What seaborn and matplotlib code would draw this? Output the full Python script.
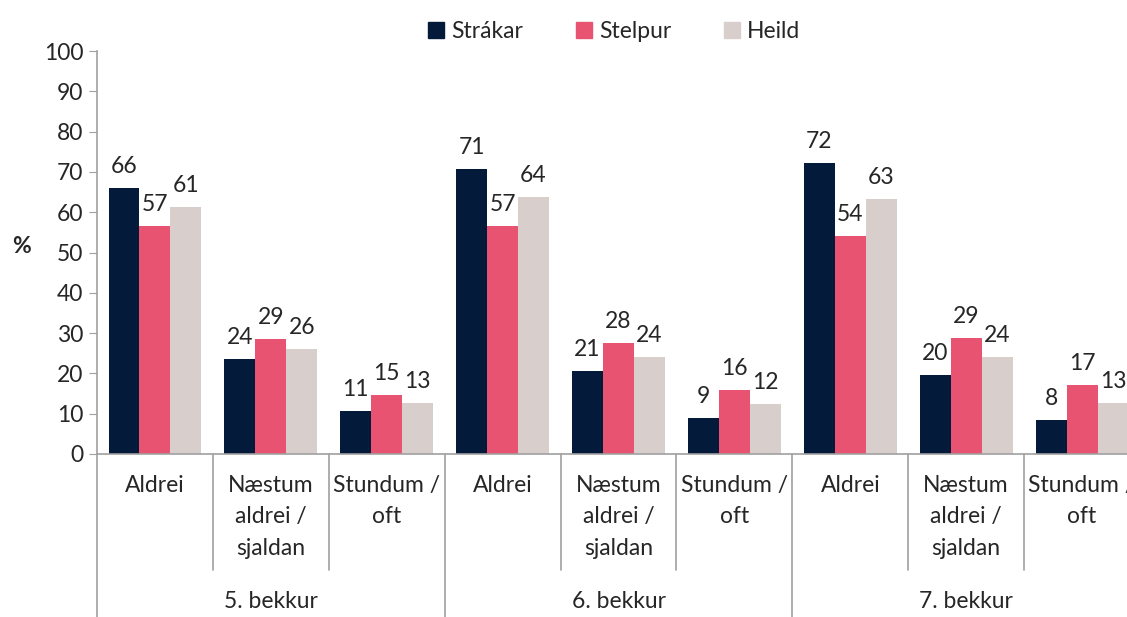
import matplotlib.pyplot as plt
import matplotlib.transforms as mtransforms
import pandas as pd
import seaborn as sns

# Chart data
groups = ["5. bekkur", "6. bekkur", "7. bekkur"]
answers = ["Aldrei", "Næstum\naldrei /\nsjaldan", "Stundum /\noft"]
series = ["Strákar", "Stelpur", "Heild"]
strakar = [66.0, 23.6, 10.7, 70.7, 20.6, 8.9, 72.2, 19.6, 8.4]
stelpur = [56.6, 28.6, 14.6, 56.6, 27.6, 15.9, 54.1, 28.8, 17.1]
heild = [61.3, 26.1, 12.7, 63.8, 24.1, 12.4, 63.3, 24.1, 12.7]
colors = ["#031A3B", "#E95372", "#D8CFCC"]

# Long table for seaborn
keys = [f"{g}|{a}" for g in groups for a in answers]
df = pd.DataFrame({
    "key": keys * 3,
    "series": [s for s in series for _ in keys],
    "value": strakar + stelpur + heild,
})

sns.set_style("white")
plt.rcParams["font.family"] = ["Lato", "DejaVu Sans"]
FS = 16.5

fig = plt.figure(figsize=(11.27, 6.17), dpi=100)
ax = fig.add_axes([97 / 1127, 163 / 617, 1043 / 1127, 403 / 617])

sns.barplot(data=df, x="key", y="value", hue="series", order=keys,
            hue_order=series, palette=colors, saturation=1, width=0.8,
            linewidth=0, ax=ax, legend=True)

for cont in ax.containers:
    ax.bar_label(cont, fmt="{:.0f}", padding=8, fontsize=FS)

ax.set_xlim(-0.5, len(keys) - 0.5)
ax.set_ylim(0, 100)
ax.set_yticks(range(0, 101, 10))
ax.tick_params(axis="y", left=True, length=6, color="#A0A0A0", labelsize=FS, pad=4)
ax.set_xticks([])
ax.set_xlabel("")
ax.set_ylabel("%", rotation=0, fontweight="bold", fontsize=FS)
ax.yaxis.set_label_coords(-0.072, 0.49)

for side in ["top", "right"]:
    ax.spines[side].set_visible(False)
for side in ["left", "bottom"]:
    ax.spines[side].set_color("#A0A0A0")
    ax.spines[side].set_linewidth(1.2)

# Multi-level category axis
trans = mtransforms.blended_transform_factory(ax.transData, ax.transAxes)
for i, k in enumerate(keys):
    ax.annotate(k.split("|")[1], xy=(i, 0), xycoords=trans, xytext=(0, -15),
                textcoords="offset points", ha="center", va="top",
                fontsize=FS, linespacing=1.62, annotation_clip=False)
for j, g in enumerate(groups):
    ax.annotate(g, xy=(j * 3 + 1, 0), xycoords=trans, xytext=(0, -99),
                textcoords="offset points", ha="center", va="top",
                fontsize=FS, annotation_clip=False)

for b in range(len(keys) + 1):
    x = b - 0.5
    low = -0.41 if b % 3 == 0 else -0.288
    ax.plot([x, x], [0, low], transform=trans, color="#A0A0A0",
            linewidth=1.2, clip_on=False)

ax.get_legend().remove()
handles = [plt.Rectangle((0, 0), 1, 1, color=c) for c in colors]
fig.legend(handles, series, loc="upper center", bbox_to_anchor=(0.545, 1.0),
           ncol=3, frameon=False, fontsize=FS, handlelength=0.7,
           handleheight=0.7, handletextpad=0.3, columnspacing=2.3)

fig.savefig("out.png", dpi=100)
